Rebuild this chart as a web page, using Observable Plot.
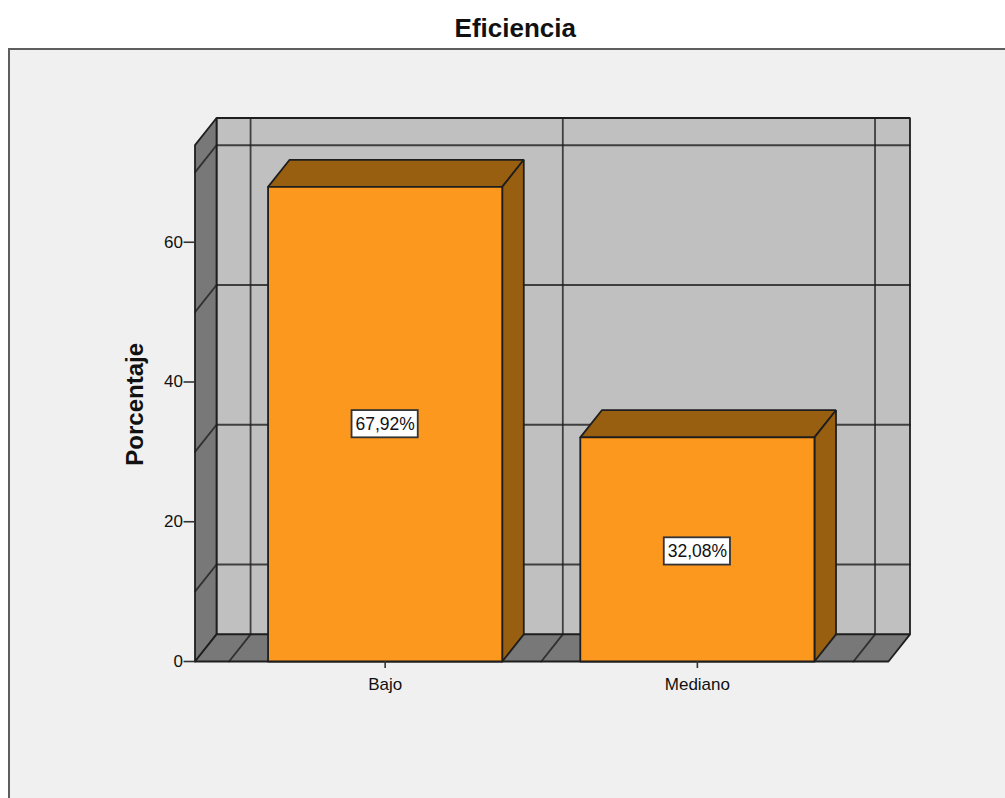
<!DOCTYPE html>
<html>
<head>
<meta charset="utf-8">
<script src="https://cdn.jsdelivr.net/npm/d3@7"></script>
<script src="https://cdn.jsdelivr.net/npm/@observablehq/plot@0.6"></script>
<style>
  html, body { margin: 0; padding: 0; background: #fff; overflow: hidden; }
  #page { position: relative; width: 1005px; height: 798px; overflow: hidden; }
  #panel { position: absolute; left: 8px; top: 47.5px; width: 1100px; height: 900px;
           background: #f0f0f0; border: 2px solid #5e5e5e; box-sizing: border-box; }
  #chart { position: absolute; left: 0; top: 0; }
</style>
</head>
<body>
<div id="page"><div id="panel"></div><div id="chart"></div></div>
<script>
// Percentage of respondents per efficiency level
const categories = ["Bajo", "Mediano"];
const percentages = [67.92, 32.08];
const labelHeights = [33.96, 15.75];
const valueTicks = [0, 20, 40, 60];
const wallGridValues = [10, 30, 50, 70];
const categoryBoundaries = [-0.5, 0.5, 1.5];

// Extents of the 3D box, in data units (x: category index, y: percent)
const xFront = [-0.609, 1.612];
const yTopFront = 73.9;
const depthX = 0.069;
const depthY = 3.88;
const barHalf = 0.375;
const boxHalfX = 0.106, boxHalfY = 1.95;

const ink = "#1e1e1e";
const wallGrey = "#787878", backGrey = "#c0c0c0";
const barFront = "#fb981d", barShade = "#985f10";

const face = (points, fill, sw = 1.8) => Plot.line(
  [...points, points[0]],
  {x: d => d[0], y: d => d[1], fill, stroke: ink, strokeWidth: sw, strokeLinejoin: "miter", curve: "linear"}
);
const segment = ([a, b]) => Plot.line([a, b],
  {x: d => d[0], y: d => d[1], stroke: ink, strokeOpacity: 0.8, strokeWidth: 1.8, curve: "linear"});

const [xL, xR] = xFront;
const backL = xL + depthX, backR = xR + depthX, floorBack = depthY, topBack = yTopFront + depthY;

const shell = [
  face([[backL, floorBack], [backR, floorBack], [backR, topBack], [backL, topBack]], backGrey),
  ...wallGridValues.map(v => segment([[backL, v + depthY], [backR, v + depthY]])),
  ...categoryBoundaries.map(c => segment([[c + depthX, floorBack], [c + depthX, topBack]])),
  face([[xL, 0], [backL, floorBack], [backL, topBack], [xL, yTopFront]], wallGrey),
  face([[xL, 0], [xR, 0], [backR, floorBack], [backL, floorBack]], wallGrey),
  ...wallGridValues.map(v => segment([[xL, v], [backL, v + depthY]])),
  ...categoryBoundaries.map(c => segment([[c, 0], [c + depthX, floorBack]]))
];

const bars = categories.flatMap((_, i) => {
  const l = i - barHalf, r = i + barHalf, v = percentages[i];
  return [
    face([[l, v], [r, v], [r + depthX, v + depthY], [l + depthX, v + depthY]], barShade),
    face([[r, 0], [r + depthX, depthY], [r + depthX, v + depthY], [r, v]], barShade),
    face([[l, 0], [r, 0], [r, v], [l, v]], barFront)
  ];
});

const labels = categories.map((_, i) => ({i, h: labelHeights[i], text: percentages[i].toFixed(2).replace(".", ",") + "%"}));

const chart = Plot.plot({
  width: 1005,
  height: 798,
  marginLeft: 194.5,
  marginRight: 95.5,
  marginTop: 117.5,
  marginBottom: 137,
  style: {background: "transparent", fontFamily: "'Liberation Sans', Arial, sans-serif", fontSize: "17px", color: "#111"},
  x: {domain: [xL, backR]},
  y: {domain: [0, topBack]},
  marks: [
    ...shell,
    ...bars,
    Plot.rect(labels, {
      x1: d => d.i - boxHalfX, x2: d => d.i + boxHalfX,
      y1: d => d.h - boxHalfY, y2: d => d.h + boxHalfY,
      fill: "white", stroke: "#333", strokeWidth: 1.8
    }),
    Plot.text(labels, {x: "i", y: "h", text: "text", fontSize: 17.5, fill: "#111"}),
    Plot.axisY({ticks: valueTicks, label: null, tickSize: 11, tickPadding: 1, stroke: "#333", strokeWidth: 1.6}),
    Plot.axisX({ticks: [0, 1], tickFormat: i => categories[i], label: null, tickSize: 7, tickPadding: 9, stroke: "#333", strokeWidth: 1.6}),
    Plot.text(["Porcentaje"], {x: -0.8, y: 36.8, rotate: -90, fontSize: 24, fontWeight: "bold", fill: "#111"}),
    Plot.text(["Eficiencia"], {x: 0.4167, y: 90.6, fontSize: 26, fontWeight: "bold", fill: "#111"})
  ]
});
document.getElementById("chart").append(chart);
</script>
</body>
</html>
